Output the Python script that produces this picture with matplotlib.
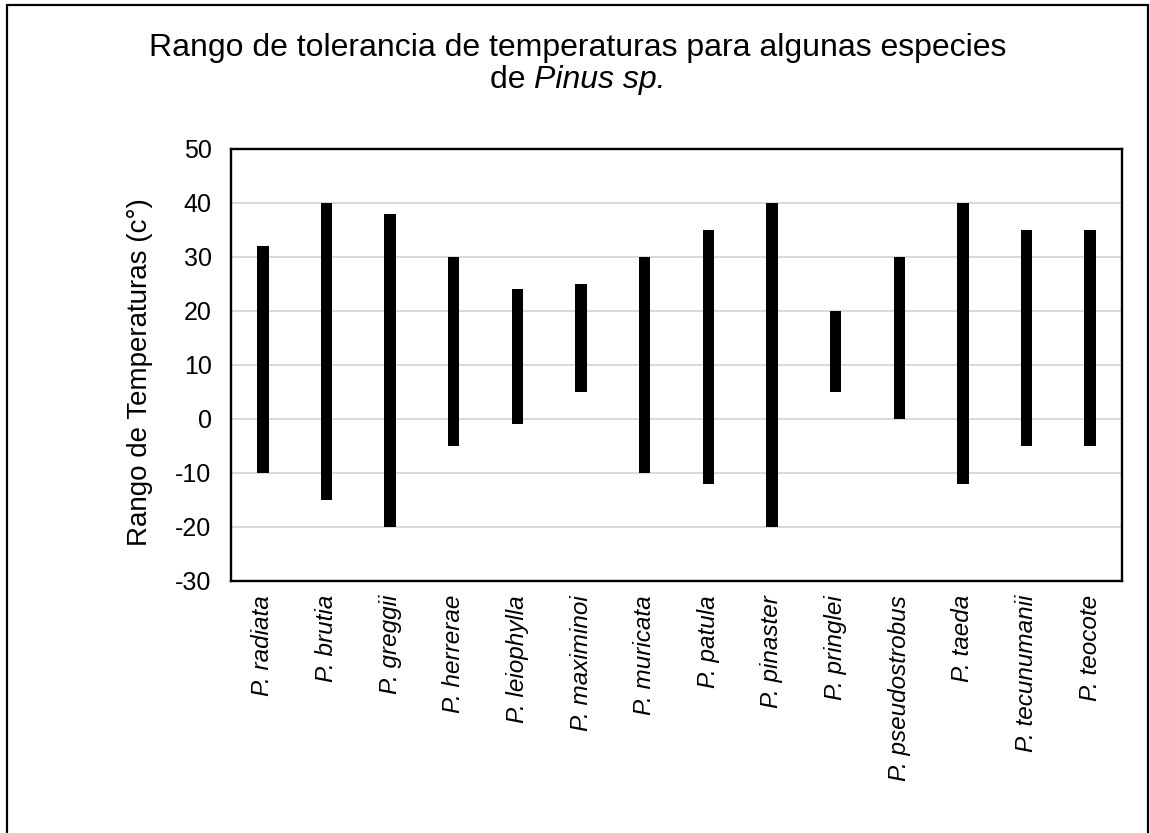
import matplotlib
matplotlib.use("Agg")
import matplotlib.pyplot as plt
from matplotlib.patches import Rectangle
import numpy as np

# Datos: rango de temperaturas por especie
especies = ["P. radiata", "P. brutia", "P. greggii", "P. herrerae", "P. leiophylla",
            "P. maximinoi", "P. muricata", "P. patula", "P. pinaster", "P. pringlei",
            "P. pseudostrobus", "P. taeda", "P. tecunumanii", "P. teocote"]
temp_min = [-10, -15, -20, -5, -1, 5, -10, -12, -20, 5, 0, -12, -5, -5]
temp_max = [32, 40, 38, 30, 24, 25, 30, 35, 40, 20, 30, 40, 35, 35]
y_ticks = [-30, -20, -10, 0, 10, 20, 30, 40, 50]

plt.rcParams['font.family'] = ['Liberation Sans', 'DejaVu Sans']

W, H = 1150, 833
fig = plt.figure(figsize=(W / 100, H / 100), dpi=100)

# marco exterior (sin borde inferior visible)
fig.patches.append(Rectangle((7 / W, -0.05), (1148 - 7) / W, 1.05 - 5 / H,
                             transform=fig.transFigure, fill=False,
                             edgecolor='black', linewidth=1.6))

ax = fig.add_axes([231 / W, 1 - 581 / H, (1122 - 231) / W, (581 - 149) / H])

x = np.arange(len(especies))
alturas = np.array(temp_max) - np.array(temp_min)
ax.bar(x, alturas, bottom=temp_min, width=0.18, color='black', zorder=3)

ax.set_xlim(-0.5, len(especies) - 0.5)
ax.set_ylim(-30, 50)
ax.set_yticks(y_ticks)
ax.set_yticklabels([str(v) for v in y_ticks], fontsize=18)
ax.set_xticks(x)
ax.set_xticklabels(especies, rotation=90, fontsize=17.5, style='italic',
                   ha='center', va='top')
ax.tick_params(axis='both', length=0)
ax.tick_params(axis='y', pad=14)
ax.tick_params(axis='x', pad=10)

ax.grid(axis='y', color='#d9d9d9', linewidth=1.4, zorder=0)
for s in ax.spines.values():
    s.set_linewidth(1.7)
    s.set_color('black')

ax.set_ylabel("Rango de Temperaturas (c°)", fontsize=20)
ax.yaxis.set_label_coords(-0.0875, 0.483)

# titulo en dos lineas
fs_titulo = 23
cx = 577.5 / W
fig.text(cx, 1 - 56 / H, "Rango de tolerancia de temperaturas para algunas especies",
         ha='center', va='baseline', fontsize=fs_titulo)

r = fig.canvas.get_renderer()
t1 = fig.text(0, 1 - 88 / H, "de ", ha='left', va='baseline', fontsize=fs_titulo)
t2 = fig.text(0, 1 - 88 / H, "Pinus sp.", ha='left', va='baseline',
              fontsize=fs_titulo, style='italic')
w1 = t1.get_window_extent(r).width / W
w2 = t2.get_window_extent(r).width / W
x0 = cx - (w1 + w2) / 2
t1.set_x(x0)
t2.set_x(x0 + w1)

fig.savefig("out.png", dpi=100)
